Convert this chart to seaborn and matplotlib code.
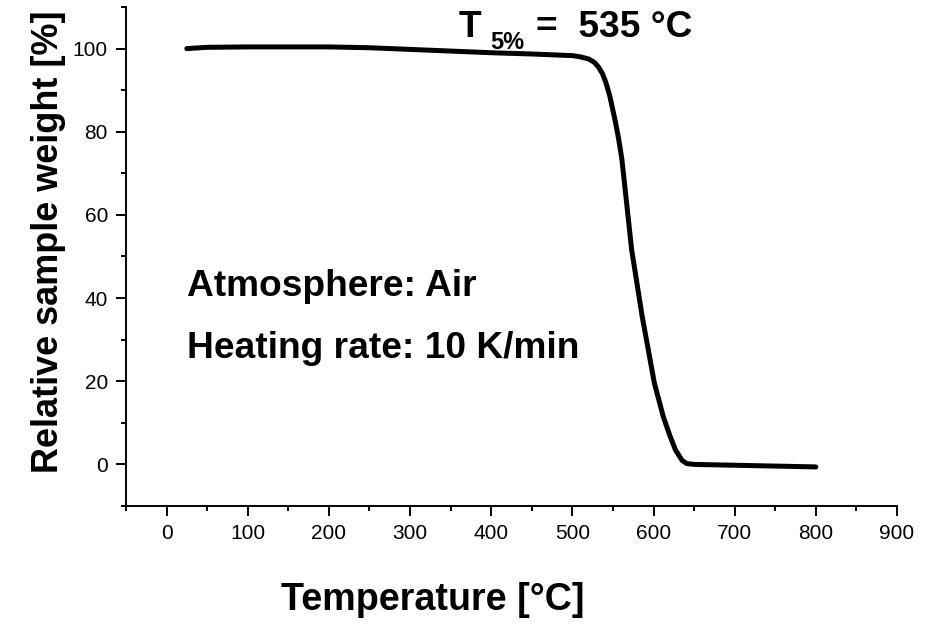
import numpy as np
import pandas as pd
import matplotlib
matplotlib.use("Agg")
import matplotlib.pyplot as plt
import seaborn as sns

# Data
temperature = [25, 50, 100, 150, 200, 250, 300, 350, 400, 450, 500, 510, 520, 527,
               532, 537, 541, 546, 553, 557, 561, 565, 573, 586, 601, 612, 620, 627,
               635, 641, 650, 700, 750, 800]
weight = [100.0, 100.3, 100.4, 100.4, 100.4, 100.2, 99.8, 99.4, 99.0, 98.7, 98.3,
          98.0, 97.5, 96.7, 95.6, 94.0, 92.0, 88.7, 82.4, 78.3, 73.4, 66.2, 51.7, 35.6,
          19.6, 11.5, 7.0, 3.5, 1.0, 0.2, 0.0, -0.2, -0.4, -0.6]

x_ticks = [0, 100, 200, 300, 400, 500, 600, 700, 800, 900]
y_ticks = [0, 20, 40, 60, 80, 100]

df = pd.DataFrame({"Temperature": temperature, "Weight": weight})

sns.set_style("ticks")
plt.rcParams["font.family"] = ["Liberation Sans", "DejaVu Sans"]
plt.rcParams["text.color"] = "black"
plt.rcParams["axes.labelcolor"] = "black"

fig = plt.figure(figsize=(9.31, 6.24), dpi=100)
ax = fig.add_axes([0.1353, 0.1891, 0.8282, 0.7997])

sns.lineplot(data=df, x="Temperature", y="Weight", color="black", linewidth=3.6,
             ax=ax, sort=False)

ax.set_xlim(-50, 900)
ax.set_ylim(-10, 110)
ax.set_xticks(x_ticks)
ax.set_yticks(y_ticks)
ax.set_xticks(np.arange(-50, 901, 100), minor=True)
ax.set_yticks(np.arange(-10, 111, 20), minor=True)

for side in ["top", "right"]:
    ax.spines[side].set_visible(False)
for side in ["left", "bottom"]:
    ax.spines[side].set_linewidth(1.4)
    ax.spines[side].set_color("black")

ax.tick_params(axis="both", which="major", direction="out", length=7, width=1.4,
               labelsize=15, colors="black", pad=6)
ax.tick_params(axis="both", which="minor", direction="out", length=3.5, width=1.4,
               colors="black")

ax.set_xlabel("Temperature [°C]", fontsize=27.2, fontweight="bold", va="center")
ax.set_ylabel("Relative sample weight [%]", fontsize=25.9, fontweight="bold", va="center")
ax.xaxis.set_label_coords(0.398, -0.188)
ax.yaxis.set_label_coords(-0.0999, 0.529)

ax.text(25, 40.5, "Atmosphere: Air", fontsize=26.7, fontweight="bold", va="baseline")
ax.text(25, 25.6, "Heating rate: 10 K/min", fontsize=26.7, fontweight="bold", va="baseline")

ax.text(359.6, 102.8, "T", fontsize=26.7, fontweight="bold", va="baseline", clip_on=False)
ax.text(398.6, 100.0, "5%", fontsize=17, fontweight="bold", va="baseline", clip_on=False)
ax.text(455, 102.8, "=  535 °C", fontsize=26.7, fontweight="bold", va="baseline", clip_on=False)

fig.savefig("out.png", dpi=100)
